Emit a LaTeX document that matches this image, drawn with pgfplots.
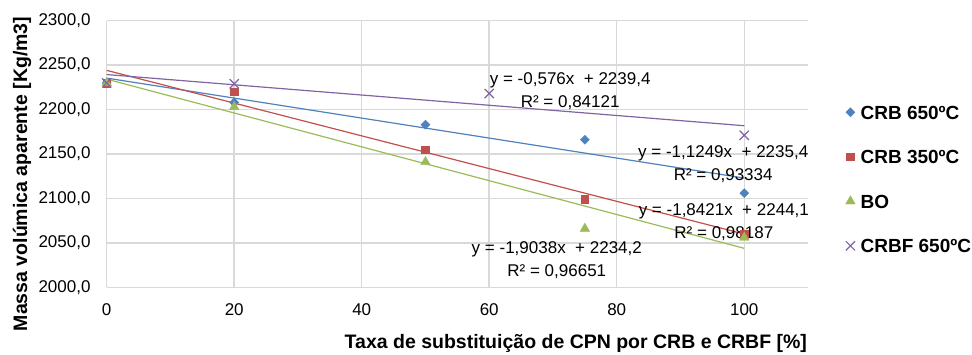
\documentclass[border=0pt]{standalone}
\usepackage{pgfplots}
\pgfplotsset{compat=1.18}
\usepackage{fontspec}
\setmainfont{Liberation Sans}
\definecolor{cblue}{HTML}{4F81BD}
\definecolor{cred}{HTML}{C0504D}
\definecolor{cgreen}{HTML}{9BBB59}
\definecolor{cpurple}{HTML}{8064A2}
\definecolor{gridgray}{HTML}{D9D9D9}
\begin{document}
\begin{tikzpicture}
\path[use as bounding box] (0pt,0pt) rectangle (972pt,355pt);
\begin{axis}[
  at={(106.7pt,67.7pt)}, anchor=south west,
  scale only axis, width=701.3pt, height=266.6pt,
  xmin=0, xmax=110, ymin=2000, ymax=2300,
  xtick={0,20,...,100}, ytick={2000,2050,...,2300},
  grid=major, major grid style={draw=gridgray, line width=1.5pt},
  axis x line*=bottom, axis y line*=left,
  axis line style={draw=gridgray, line width=1.5pt},
  major tick length=0pt,
  clip=false,
  /pgf/number format/assume math mode=true,
  ticklabel style={font=\fontsize{17}{20}\selectfont, inner sep=0pt},
  yticklabel style={/pgf/number format/fixed, /pgf/number format/fixed zerofill, /pgf/number format/precision=1, /pgf/number format/use comma, /pgf/number format/1000 sep={}, xshift=-16pt},
  xticklabel style={yshift=-16pt},
  xlabel={Taxa de substituição de CPN por CRB e CRBF [\%]},
  xlabel style={at={(axis description cs:0.669,-0.211)}, anchor=center, font=\bfseries\fontsize{19.5}{22}\selectfont},
  ylabel={Massa volúmica aparente [Kg/m3]},
  ylabel style={at={(axis description cs:-0.1208,0.425)}, anchor=center, font=\bfseries\fontsize{19.5}{22}\selectfont},
  legend style={draw=none, fill=none, at={(axis description cs:1.0485,0.691)}, anchor=north west,
    font=\bfseries\fontsize{19}{22}\selectfont, row sep=30.5pt,
    nodes={inner sep=0pt, text height=14pt, text depth=0pt},
    /tikz/every odd column/.append style={column sep=5pt}},
  legend cell align=left,
  legend image code/.code={\draw[#1] plot coordinates {(0pt,0pt)}; \path (-5pt,0pt) (5pt,0pt);},
]
% data series
\addplot[only marks, mark=square*, mark size=3.2pt, mark options={rotate=45, fill=cblue, draw=cblue}, color=cblue]
  coordinates {(0,2230)(20,2208)(50,2183)(75,2166)(100,2106)};
\addlegendentry{CRB 650ºC}
\addplot[only marks, mark=square*, mark size=3.8pt, mark options={fill=cred, draw=cred}, color=cred]
  coordinates {(0,2230)(20,2220)(50,2155)(75,2099)(100,2060)};
\addlegendentry{CRB 350ºC}
\addplot[only marks, mark=triangle*, mark size=5.5pt, mark options={fill=cgreen, draw=cgreen}, color=cgreen]
  coordinates {(0,2230)(20,2203)(50,2141)(75,2066)(100,2056)};
\addlegendentry{BO}
\addplot[only marks, mark=x, mark size=6.5pt, mark options={draw=cpurple, line width=1.2pt}, color=cpurple]
  coordinates {(0,2230)(20,2229)(60,2218)(100,2171)};
\addlegendentry{CRBF 650ºC}
% trendlines (from the fitted equations)
\addplot[forget plot, cblue, line width=1.2pt] coordinates {(0,2235.4)(100,2122.91)};
\addplot[forget plot, cred, line width=1.2pt] coordinates {(0,2244.1)(100,2059.89)};
\addplot[forget plot, cgreen, line width=1.2pt] coordinates {(0,2234.2)(100,2043.82)};
\addplot[forget plot, cpurple, line width=1.2pt] coordinates {(0,2239.4)(100,2181.8)};
% trendline labels
\node[align=center, font=\fontsize{17}{23}\selectfont, inner sep=0pt] at (axis cs:72.7,2221.2) {y = -0,576x\ \ + 2239,4\\R² = 0,84121};
\node[align=center, font=\fontsize{17}{23}\selectfont, inner sep=0pt] at (axis cs:96.7,2138.1) {y = -1,1249x\ \ + 2235,4\\R² = 0,93334};
\node[align=center, font=\fontsize{17}{23}\selectfont, inner sep=0pt] at (axis cs:96.8,2073.0) {y = -1,8421x\ \ + 2244,1\\R² = 0,98187};
\node[align=center, font=\fontsize{17}{23}\selectfont, inner sep=0pt] at (axis cs:70.6,2030.7) {y = -1,9038x\ \ + 2234,2\\R² = 0,96651};
\end{axis}
\end{tikzpicture}
\end{document}
